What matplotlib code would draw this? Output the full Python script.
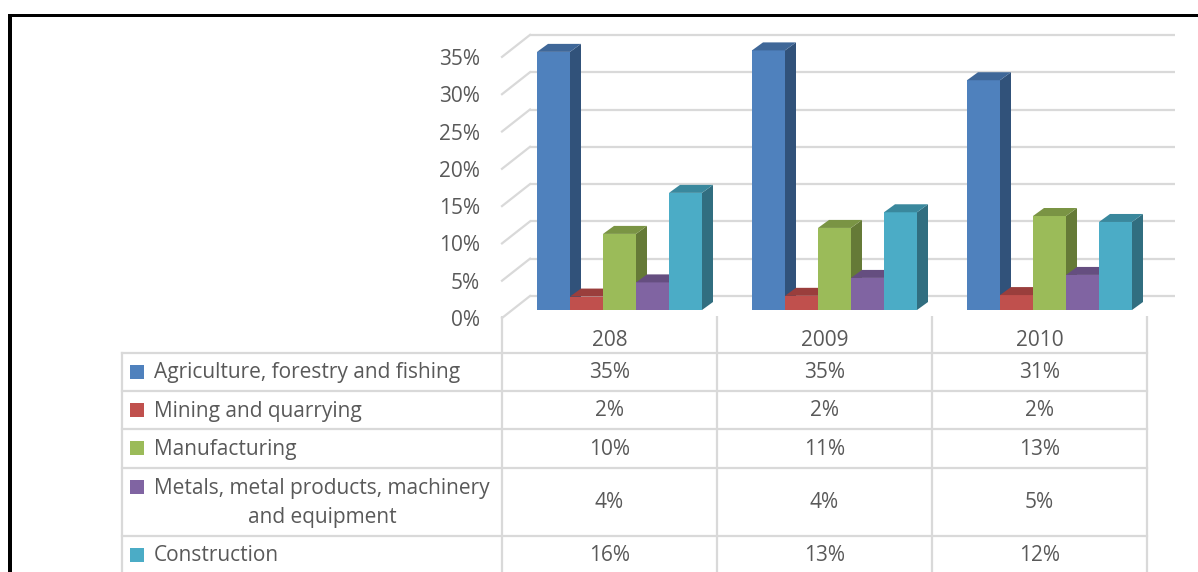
import matplotlib
matplotlib.use("Agg")
import matplotlib.pyplot as plt
from matplotlib.patches import Polygon, Rectangle
from matplotlib.lines import Line2D
from matplotlib.transforms import IdentityTransform, ScaledTranslation

# ---------------- data ----------------
years = ["208", "2009", "2010"]
sectors = ["Agriculture, forestry and fishing",
           "Mining and quarrying",
           "Manufacturing",
           "Metals, metal products, machinery\nand equipment",
           "Construction"]
agriculture = [34.6, 34.8, 30.8]
mining = [1.8, 1.9, 2.0]
manufacturing = [10.2, 11.0, 12.6]
metals = [3.7, 4.3, 4.7]
construction = [15.7, 13.1, 11.8]
series = [agriculture, mining, manufacturing, metals, construction]
y_ticks = [0, 5, 10, 15, 20, 25, 30, 35]

front_colors = ["#4F81BD", "#C0504D", "#9BBB59", "#8064A2", "#4BACC6"]
top_colors = ["#3F6798", "#9A3E3C", "#7A9444", "#654E80", "#3A889D"]
side_colors = ["#31527A", "#8E3B38", "#657A37", "#5D4A77", "#316E80"]

FONT = "Open Sans"
FS = 15
TXT = "#595959"
GRID = "#D9D9D9"

W, H = 1198, 572
fig = plt.figure(figsize=(W / 100, H / 100), dpi=100)

# main axes: front plane of the walls
left_px, right_px = 502, 1147
zero_px = 318          # from top
px_per_unit = 37.3 / 5
ymax = 40
ax = fig.add_axes([left_px / W, (H - zero_px) / H, (right_px - left_px) / W,
                   ymax * px_per_unit / H])
ax.set_xlim(-0.5, len(years) - 0.5)
ax.set_ylim(0, ymax)
for s in ax.spines.values():
    s.set_visible(False)
ax.set_xticks([])
ax.set_yticks(y_ticks)
ax.set_yticklabels([f"{v}%" for v in y_ticks], fontfamily=FONT, fontsize=FS, color=TXT)
ax.tick_params(axis="y", length=0, pad=16)
ax.patch.set_visible(False)

# offsets (pixels) for pseudo-3D
wall_dx, wall_dy = 28, 22
bar_dx, bar_dy = 10, 8
depth_dx, depth_dy = 11, 8

ident = IdentityTransform()

# back wall gridlines and side wall diagonals
back = ax.transData + ScaledTranslation(wall_dx / 100, wall_dy / 100, fig.dpi_scale_trans)
ax.hlines(y_ticks, -0.5, len(years) - 0.5, colors=GRID, linewidth=1.6,
          transform=back, clip_on=False, zorder=1)
for v in y_ticks:
    p0 = ax.transData.transform((-0.5, v))
    ax.add_line(Line2D([p0[0], p0[0] + wall_dx], [p0[1], p0[1] + wall_dy],
                       color=GRID, linewidth=1.6, transform=ident, zorder=1,
                       clip_on=False))

# bars
n = len(series)
bw = 33 / 215
bar_tr = ax.transData + ScaledTranslation(bar_dx / 100, bar_dy / 100, fig.dpi_scale_trans)
z = 2
for gi in range(len(years)):
    for j in range(n):
        x0 = gi + (j - n / 2) * bw
        val = series[j][gi]
        bl = bar_tr.transform((x0, 0))
        tr = bar_tr.transform((x0 + bw, val))
        xl, yb = bl
        xr, yt = tr
        ax.bar(x0, val, width=bw, align="edge", color=front_colors[j],
               edgecolor="none", transform=bar_tr, zorder=z, clip_on=False)
        side = Polygon([[xr, yb], [xr + depth_dx, yb + depth_dy],
                        [xr + depth_dx, yt + depth_dy], [xr, yt]],
                       closed=True, facecolor=side_colors[j], edgecolor="none",
                       transform=ident, zorder=z + 0.5, clip_on=False)
        top = Polygon([[xl, yt], [xr, yt], [xr + depth_dx, yt + depth_dy],
                       [xl + depth_dx, yt + depth_dy]],
                      closed=True, facecolor=top_colors[j], edgecolor="none",
                      transform=ident, zorder=z + 0.5, clip_on=False)
        ax.add_patch(side)
        ax.add_patch(top)
        z += 1

# ---------------- data table ----------------
tab = fig.add_axes([0, 0, 1, 1], zorder=-1)
tab.set_xlim(0, W)
tab.set_ylim(H, 0)
tab.axis("off")
tab.patch.set_visible(False)

col_edges = [left_px + i * (right_px - left_px) / len(years) for i in range(len(years) + 1)]
label_left = 122
row_tops = [352.7, 391, 429, 467.7, 535.7, 574]
header_y = 339

lw = 1.6
for xe in col_edges:
    tab.plot([xe, xe], [316, H + 5], color=GRID, lw=lw, zorder=1, solid_capstyle="butt")
tab.plot([label_left, label_left], [row_tops[0], H + 5], color=GRID, lw=lw, zorder=1)
for yr in row_tops:
    tab.plot([label_left, right_px], [yr, yr], color=GRID, lw=lw, zorder=1)

for i, yl in enumerate(years):
    cx = (col_edges[i] + col_edges[i + 1]) / 2
    tab.text(cx, header_y + 1, yl, ha="center", va="center", fontfamily=FONT,
             fontsize=FS, color=TXT)

for r, name in enumerate(sectors):
    y0, y1 = row_tops[r], row_tops[r + 1]
    cy = (y0 + y1) / 2
    if "\n" in name:
        sq_y = y0 + 19
        tab.text(154, cy + 1, name, ha="left", va="center", fontfamily=FONT,
                 fontsize=FS, color=TXT, multialignment="center", linespacing=1.5)
    else:
        sq_y = cy
        tab.text(154, cy + 1, name, ha="left", va="center", fontfamily=FONT,
                 fontsize=FS, color=TXT)
    tab.add_patch(Rectangle((130, sq_y - 7), 14, 14, facecolor=front_colors[r],
                            edgecolor="none"))
    for i in range(len(years)):
        cx = (col_edges[i] + col_edges[i + 1]) / 2
        tab.text(cx, cy + 1, f"{round(series[r][i])}%", ha="center", va="center",
                 fontfamily=FONT, fontsize=FS, color=TXT)

# black frame (top and left)
tab.add_patch(Rectangle((8, 14), 4, H, facecolor="black", edgecolor="none"))
tab.add_patch(Rectangle((8, 14), W, 2.7, facecolor="black", edgecolor="none"))

fig.savefig("out.png", dpi=100)
